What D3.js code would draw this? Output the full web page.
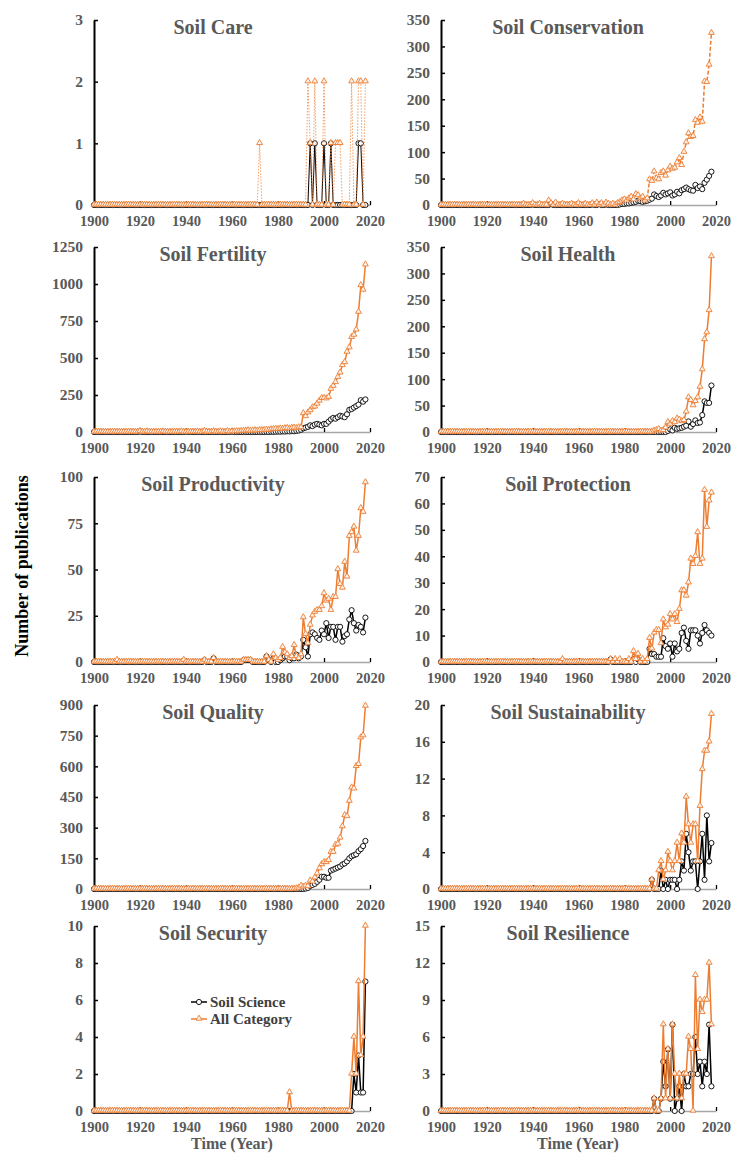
<!DOCTYPE html>
<html lang="en">
<head>
<meta charset="UTF-8">
<title>Soil terms publications</title>
<script src="https://d3js.org/d3.v7.min.js"></script>
<style>
  body { margin: 0; background: #fff; }
  text { font-family: "Liberation Serif", "Times New Roman", serif; font-weight: bold; }
</style>
</head>
<body>
<div id="chart"></div>
<script>
// categories and axis settings
const titles = ["Soil Care", "Soil Conservation", "Soil Fertility", "Soil Health", "Soil Productivity",
                "Soil Protection", "Soil Quality", "Soil Sustainability", "Soil Security", "Soil Resilience"]
const yMax  = [3, 350, 1250, 350, 100, 70, 900, 20, 10, 15]
const yStep = [1, 50, 250, 50, 25, 10, 150, 4, 2, 3]
const xTicks = [1900, 1920, 1940, 1960, 1980, 2000, 2020]
const years = d3.range(1900, 2019)

// series: values from "start" to 2018, "early" = isolated years before that, all other years 0
const careSci = {start: 1994, vals: [1,0,1,0,0,0,1,0,0,1,0,0,0,0,0,0,0,0,0,0,0,1,1,0,0]}
const careAll = {start: 1993, vals: [2,1,0,2,0,0,0,2,0,0,1,0,1,1,1,0,0,0,0,2,0,0,2,2,0,2], early: [[1972,1]]}

const consSci = {start: 1978, vals: [1,2,2,3,3,4,5,6,8,7,6,7,8,10,12,20,17,15,18,23,20,22,24,18,20,25,22,28,30,33,30,28,27,38,32,35,30,42,48,55,63],
                 early: [[1940,1],[1948,2],[1966,1],[1969,2],[1972,1]]}
const consAll = {start: 1975, vals: [2,0,3,5,8,10,8,12,15,10,20,18,12,15,8,12,48,45,63,50,48,60,63,55,65,72,68,70,80,88,75,100,118,135,128,130,160,155,165,157,233,232,265,325],
                 early: [[1936,2],[1940,3],[1943,2],[1947,8],[1948,3],[1950,4],[1953,2],[1957,2],[1960,3],[1963,2],[1966,3],[1968,4],[1970,3],[1972,4],[1973,2]]}

const fertSci = {start: 1975, vals: [1,0,2,1,2,3,2,4,3,5,4,6,5,8,10,15,25,30,35,45,40,50,55,50,45,55,55,70,85,95,90,100,110,105,100,120,150,155,165,175,185,215,205,220],
                 early: [[1920,3],[1940,2],[1960,2]]}
const fertAll = {start: 1960, vals: [3,2,4,3,5,6,8,10,6,8,10,8,12,10,12,14,12,16,18,20,18,22,20,24,25,22,26,28,24,30,30,125,105,130,145,165,170,190,210,228,228,225,235,290,310,335,370,400,450,470,540,570,640,655,690,810,990,960,1130],
                 early: [[1920,5],[1923,3],[1930,2],[1938,3],[1945,2],[1948,6],[1952,4],[1955,3],[1958,5]]}

const healthSci = {start: 1997, vals: [0,0,2,5,3,8,6,7,8,10,12,20,10,15,22,17,18,32,58,55,55,88]}
const healthAll = {start: 1993, vals: [2,3,5,2,3,8,18,15,20,18,25,23,20,22,38,65,60,50,58,65,85,118,175,188,230,332]}

const prodSci = {start: 1975, vals: [3,1,0,2,0,0,1,2,3,3,1,2,2,4,2,3,12,8,3,15,16,15,13,12,17,15,21,13,19,19,12,19,19,11,14,15,23,28,21,17,20,19,16,24],
                 early: [[1948,1],[1952,2],[1965,1],[1966,1],[1967,1],[1968,1]]}
const prodAll = {start: 1975, vals: [3,1,0,4,2,1,2,8,5,4,2,3,9,3,2,4,24,15,10,20,25,27,28,28,30,37,33,34,28,35,35,50,42,40,54,46,68,70,73,60,68,83,81,97],
                 early: [[1910,1],[1939,1],[1948,1],[1952,2],[1965,1],[1966,1],[1967,1],[1968,1]]}

const protSci = {start: 1974, vals: [1,0,0,0,0,0,0,0,0,0,1,0,1,0,0,0,0,5,3,3,2,2,2,9,6,5,7,2,7,4,5,11,13,8,5,12,12,12,10,7,11,14,12,11,10]}
const protAll = {start: 1974, vals: [1,0,1,0,1,0,0,0,1,0,4,1,3,0,1,0,1,9,5,11,12,12,7,16,13,14,18,16,18,15,20,27,27,25,30,39,37,40,49,37,39,65,51,61,64],
                 early: [[1953,1]]}

const qualSci = {start: 1991, vals: [0,2,5,15,20,25,35,45,60,60,55,55,90,95,100,105,110,120,125,135,150,160,165,170,185,195,210,235]}
const qualAll = {start: 1988, vals: [2,5,15,10,15,12,40,35,55,75,100,120,130,130,140,180,180,215,220,250,305,360,355,430,495,490,600,610,740,750,895]}

const sustSci = {start: 1992, vals: [1,0,0,0,2,0,1,0,1,1,1,0,1,3,2,6,4,2,3,3,0,3,6,1,8,3,5]}
const sustAll = {start: 1992, vals: [1,0,0,2,3,1,2,4,3,2,3,5,3,6,5,10,7,5,7,7,3,9,13,15,15,16,19]}

const secSci = {start: 2012, vals: [0,2,1,3,1,1,7]}
const secAll = {start: 2012, vals: [2,4,2,7,3,4,10], early: [[1985,1]]}

const resSci = {start: 1993, vals: [1,0,0,1,4,2,5,1,7,0,1,2,0,3,2,2,3,3,6,3,4,2,4,3,7,2]}
const resAll = {start: 1993, vals: [1,0,0,1,7,1,5,1,7,3,1,3,1,3,3,6,5,0,11,5,9,8,9,9,12,7]}

const sciSeries = [careSci, consSci, fertSci, healthSci, prodSci, protSci, qualSci, sustSci, secSci, resSci]
const allSeries = [careAll, consAll, fertAll, healthAll, prodAll, protAll, qualAll, sustAll, secAll, resAll]

const legendNames = ["Soil Science", "All Category"]

// layout
const width = 731, height = 1153
const colX = [[94, 370], [441, 716]]
const rowTop = [20, 247, 477, 705, 926]
const rowBottom = [205, 432, 662, 889, 1111]
const orange = "#ED7D31"
const grey = "#595959"

function expand(s) {
    const m = new Map(s.early || [])
    s.vals.forEach((v, i) => m.set(s.start + i, v))
    return years.map(y => ({year: y, value: m.get(y) || 0}))
}

const svg = d3.select("#chart").append("svg")
    .attr("width", width)
    .attr("height", height)

const triangle = d3.symbol().type(d3.symbolTriangle).size(15)

titles.forEach((title, i) => {
    const col = i % 2, row = Math.floor(i / 2)
    const x = d3.scaleLinear().domain([1900, 2020]).range(colX[col])
    const y = d3.scaleLinear().domain([0, yMax[i]]).range([rowBottom[row], rowTop[row]])
    const g = svg.append("g")

    // x axis
    const xa = g.append("g")
        .attr("transform", "translate(0," + rowBottom[row] + ")")
        .call(d3.axisBottom(x).tickValues(xTicks).tickFormat(d3.format("d"))
            .tickSizeInner(-4).tickSizeOuter(0).tickPadding(11))
    xa.select(".domain").attr("stroke", "#a6a6a6").attr("stroke-width", 1.5)
    xa.selectAll(".tick line").attr("stroke", "#000").attr("stroke-width", 1.3)
    xa.selectAll("text").attr("fill", grey).style("font-size", "14.5px")

    // y axis
    const ya = g.append("g")
        .attr("transform", "translate(" + colX[col][0] + ",0)")
        .call(d3.axisLeft(y).tickValues(d3.range(0, yMax[i] + yStep[i] / 2, yStep[i]))
            .tickFormat(d3.format("d"))
            .tickSizeInner(-4).tickSizeOuter(0).tickPadding(11))
    ya.select(".domain").attr("stroke", "#000").attr("stroke-width", 2)
    ya.selectAll(".tick line").attr("stroke", "#000").attr("stroke-width", 1.5)
    ya.selectAll("text").attr("fill", grey).style("font-size", "15.5px")

    // title
    g.append("text")
        .attr("x", col === 0 ? 213 : 568)
        .attr("y", rowTop[row] + 14)
        .attr("text-anchor", "middle")
        .attr("fill", grey)
        .style("font-size", "20px")
        .text(title)

    const line = d3.line().x(d => x(d.year)).y(d => y(d.value))
    const sci = expand(sciSeries[i])
    const all = expand(allSeries[i])

    // Soil Science
    g.append("path").datum(sci)
        .attr("d", line)
        .attr("fill", "none")
        .attr("stroke", "#000")
        .attr("stroke-width", i === 0 ? 1 : 1.5)
    g.append("g").selectAll("circle").data(sci).enter()
        .append("circle")
        .attr("cx", d => x(d.year))
        .attr("cy", d => y(d.value))
        .attr("r", 2.6)
        .attr("fill", "#fff")
        .attr("stroke", "#000")
        .attr("stroke-width", 0.9)

    // All Category
    g.append("path").datum(all)
        .attr("d", line)
        .attr("fill", "none")
        .attr("stroke", orange)
        .attr("stroke-width", i === 0 ? 1 : 1.5)
        .attr("stroke-dasharray", i === 0 ? "1.5,1.5" : (i === 1 ? "4,2" : null))
        .attr("opacity", i === 0 ? 0.75 : 1)
    g.append("g").selectAll("path").data(all).enter()
        .append("path")
        .attr("d", triangle)
        .attr("transform", d => "translate(" + x(d.year) + "," + (y(d.value) - 0.5) + ")")
        .attr("fill", "#fdf2ea")
        .attr("stroke", orange)
        .attr("stroke-width", 0.9)
})

// legend (inside Soil Security panel)
const lg = svg.append("g").attr("transform", "translate(191,1002)")
lg.append("line").attr("x1", 0).attr("x2", 16).attr("y1", 0).attr("y2", 0)
    .attr("stroke", "#000").attr("stroke-width", 1.5)
lg.append("circle").attr("cx", 8).attr("cy", 0).attr("r", 2.6)
    .attr("fill", "#fff").attr("stroke", "#000").attr("stroke-width", 0.9)
lg.append("line").attr("x1", 0).attr("x2", 16).attr("y1", 17).attr("y2", 17)
    .attr("stroke", orange).attr("stroke-width", 1.5)
lg.append("path").attr("d", triangle).attr("transform", "translate(8,16.5)")
    .attr("fill", "#fdf2ea").attr("stroke", orange).attr("stroke-width", 0.9)
legendNames.forEach((n, i) => {
    lg.append("text")
        .attr("x", 19)
        .attr("y", i * 17 + 5)
        .attr("fill", "#404040")
        .style("font-size", "15px")
        .text(n)
})

// axis titles
svg.append("text")
    .attr("transform", "translate(28,566) rotate(-90)")
    .attr("text-anchor", "middle")
    .attr("fill", "#000")
    .style("font-size", "18px")
    .text("Number of publications")

;[232, 578].forEach(cx => {
    svg.append("text")
        .attr("x", cx)
        .attr("y", 1149)
        .attr("text-anchor", "middle")
        .attr("fill", grey)
        .style("font-size", "16px")
        .text("Time (Year)")
})
</script>
</body>
</html>
